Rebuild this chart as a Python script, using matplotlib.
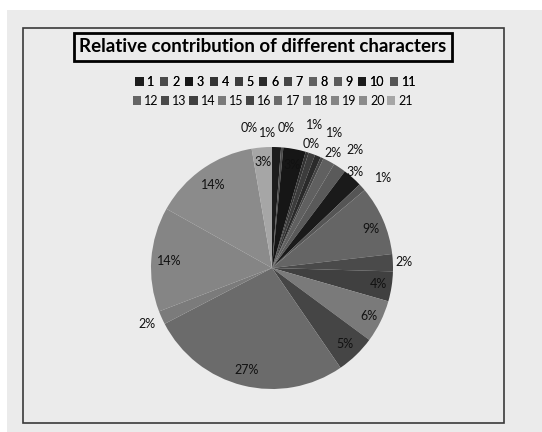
import numpy as np
import matplotlib.pyplot as plt
from matplotlib.patches import Patch, Rectangle

## Data
chars = [str(i) for i in range(1, 22)]
share = [1.2, 0.3, 3.0, 0.4, 0.9, 0.8, 0.4, 1.6, 1.7, 2.6, 1.0,
         9.3, 2.3, 4.0, 5.7, 5.3, 27.0, 1.8, 14.0, 14.2, 2.7]
greys = ['#1c1c1c', '#4a4a4a', '#161616', '#333333', '#3c3c3c', '#2a2a2a',
         '#454545', '#606060', '#5a5a5a', '#1a1a1a', '#555555',
         '#656565', '#4a4a4a', '#404040', '#7a7a7a', '#454545', '#6b6b6b',
         '#7b7b7b', '#858585', '#8b8b8b', '#a6a6a6']

## label layout (radius in pie radii, angular nudge in degrees)
lab_r = [1.12, 1.17, 0.87, 1.16, 1.23, 1.23, 1.07, 1.08, 1.19, 1.05, 1.18,
         0.88, 1.09, 0.89, 0.89, 0.87, 0.87, 1.13, 0.85, 0.84, 0.88]
lab_shift = [-4, -14, 0, -11, -2.5, 2.7, -7, 0, 1, -1, 3,
             2, 0, 0, 0, 0, 0, 0, 0, 0, 0]

W, H = 542, 432
bg = '#ebebeb'
fig = plt.figure(figsize=(W/100, H/100), dpi=100)
fig.patch.set_facecolor('white')

# grey panel and chart frame
fig.patches.append(Rectangle((7/W, 0), 1 - 7/W, 1 - 10/H, transform=fig.transFigure,
                             facecolor=bg, edgecolor='none', zorder=-2))
fig.patches.append(Rectangle((23/W, 1 - 423/H), 481/W, 395/H, transform=fig.transFigure,
                             facecolor=bg, edgecolor='#3a3a3a', linewidth=1.2, zorder=-1))

cx, cy, R = 272, 268, 121
ax = fig.add_axes([(cx - R)/W, 1 - (cy + R)/H, 2*R/W, 2*R/H])
ax.set_zorder(2)
ax.set_aspect('equal')
ax.axis('off')

wedges, _ = ax.pie(share, colors=greys, startangle=90, counterclock=False,
                   wedgeprops=dict(linewidth=0), radius=1)
ax.set_xlim(-1, 1)
ax.set_ylim(-1, 1)

total = sum(share)
cum = np.cumsum([0] + share)
for i, v in enumerate(share):
    mid = (cum[i] + v/2) / total * 360 + lab_shift[i]   # clockwise from top
    a = np.deg2rad(90 - mid)
    x, y = lab_r[i]*np.cos(a), lab_r[i]*np.sin(a)
    ax.text(x, y, '%d%%' % round(v/total*100), ha='center', va='center',
            fontsize=9, family='Lato', color='#111111', clip_on=False)

# title in box
fig.text(263/W, 1 - 47/H, 'Relative contribution of different characters',
         ha='center', va='center', fontsize=13.5, fontweight='bold', family='Lato',
         bbox=dict(boxstyle='square,pad=0.3', facecolor=bg, edgecolor='black', linewidth=2))

# legend in two rows
handles = [Patch(facecolor=c, edgecolor='none', label=n) for n, c in zip(chars, greys)]
leg1 = fig.legend(handles=handles[:11], loc='center', bbox_to_anchor=(276/W, 1 - 82/H),
                  ncol=11, frameon=False, handlelength=0.65, handleheight=0.65,
                  handletextpad=0.3, columnspacing=0.45, prop={'family': 'Lato', 'size': 9})
fig.legend(handles=handles[11:], loc='center', bbox_to_anchor=(273/W, 1 - 101/H),
           ncol=10, frameon=False, handlelength=0.65, handleheight=0.65,
           handletextpad=0.25, columnspacing=0.2, prop={'family': 'Lato', 'size': 9})
fig.add_artist(leg1)

fig.savefig('out.png', dpi=100)
